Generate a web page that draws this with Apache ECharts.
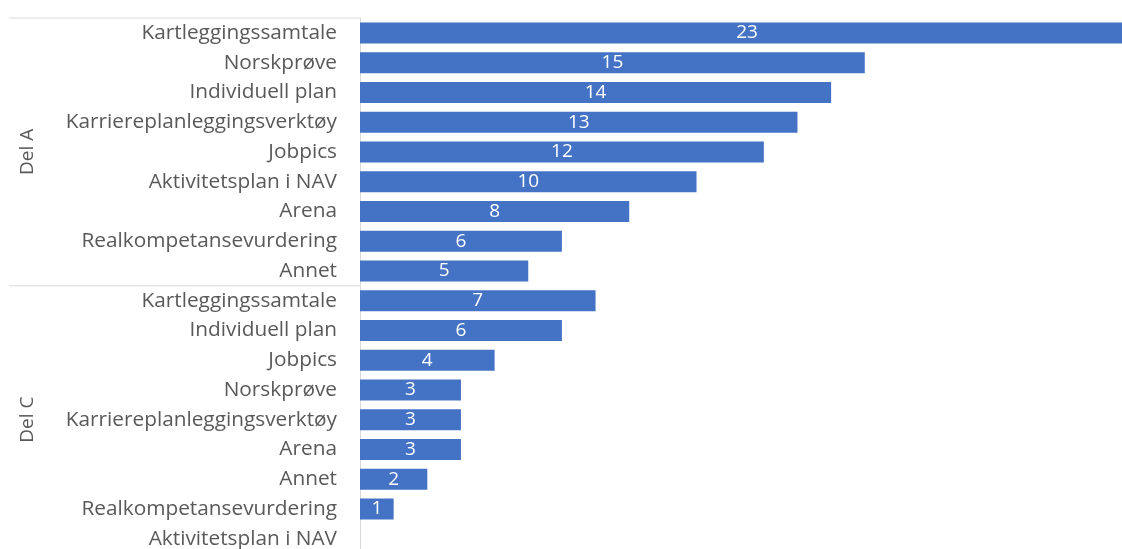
<!DOCTYPE html>
<html>
<head>
<meta charset="utf-8">
<script src="https://cdn.jsdelivr.net/npm/echarts@6/dist/echarts.min.js"></script>
<style>
  html, body { margin: 0; padding: 0; background: #ffffff; overflow: hidden; }
  /* the plot runs slightly past the window on the right and bottom */
  #chart { width: 1134px; height: 554px; }
</style>
</head>
<body>
<div id="chart"></div>
<script>
// Tools used, grouped by survey part
const groupNames = ['Del A', 'Del C'];
const delACategories = ['Kartleggingssamtale', 'Norskprøve', 'Individuell plan', 'Karriereplanleggingsverktøy', 'Jobpics', 'Aktivitetsplan i NAV', 'Arena', 'Realkompetansevurdering', 'Annet'];
const delAValues = [23, 15, 14, 13, 12, 10, 8, 6, 5];
const delCCategories = ['Kartleggingssamtale', 'Individuell plan', 'Jobpics', 'Norskprøve', 'Karriereplanleggingsverktøy', 'Arena', 'Annet', 'Realkompetansevurdering', 'Aktivitetsplan i NAV'];
const delCValues = [7, 6, 4, 3, 3, 3, 2, 1, 0];

const categories = delACategories.concat(delCCategories);
const values = delAValues.concat(delCValues);
const groupSizes = [delACategories.length, delCCategories.length];

const FONT = '"Open Sans", Lato, sans-serif';
const chart = echarts.init(document.getElementById('chart'), null, { renderer: 'canvas' });

chart.setOption({
  animation: false,
  backgroundColor: '#ffffff',
  grid: { left: 360, top: 18, right: 0, bottom: 0.5, containLabel: false },
  xAxis: {
    type: 'value', min: 0, max: 23, show: false
  },
  yAxis: {
    type: 'category',
    data: categories,
    inverse: true,
    axisLine: { show: true, lineStyle: { color: '#d9d9d9', width: 1 } },
    axisTick: { show: false },
    axisLabel: { color: '#595959', fontFamily: FONT, fontSize: 20.8, margin: 23, padding: [3, 0, 0, 0] }
  },
  series: [{
    type: 'bar',
    data: values,
    barWidth: 21,
    itemStyle: { color: '#4472c4' },
    label: {
      show: true,
      position: 'inside',
      color: '#ffffff',
      fontFamily: FONT,
      fontSize: 19,
      padding: [3, 0, 0, 0],
      formatter: p => (p.value > 0 ? String(p.value) : '')
    }
  }]
});

// Group separators and rotated group names on the category axis
function drawGroups() {
  const elements = [];
  const y0 = chart.convertToPixel({ yAxisIndex: 0 }, 0);
  const band = chart.convertToPixel({ yAxisIndex: 0 }, 1) - y0;
  const axisX = chart.convertToPixel({ xAxisIndex: 0 }, 0);
  let start = 0;
  groupSizes.forEach((size, g) => {
    const firstY = chart.convertToPixel({ yAxisIndex: 0 }, start) - band / 2;
    const lastY = firstY + size * band;
    elements.push({
      type: 'line',
      shape: { x1: 9, y1: firstY, x2: axisX, y2: firstY },
      style: { stroke: '#d9d9d9', lineWidth: 1 }
    });
    elements.push({
      type: 'text',
      x: 28, y: (firstY + lastY) / 2,
      rotation: Math.PI / 2,
      style: { text: groupNames[g], fill: '#595959', font: '19px ' + FONT, textAlign: 'center', textVerticalAlign: 'middle' }
    });
    start += size;
  });
  chart.setOption({ graphic: elements });
}
drawGroups();
</script>
</body>
</html>
